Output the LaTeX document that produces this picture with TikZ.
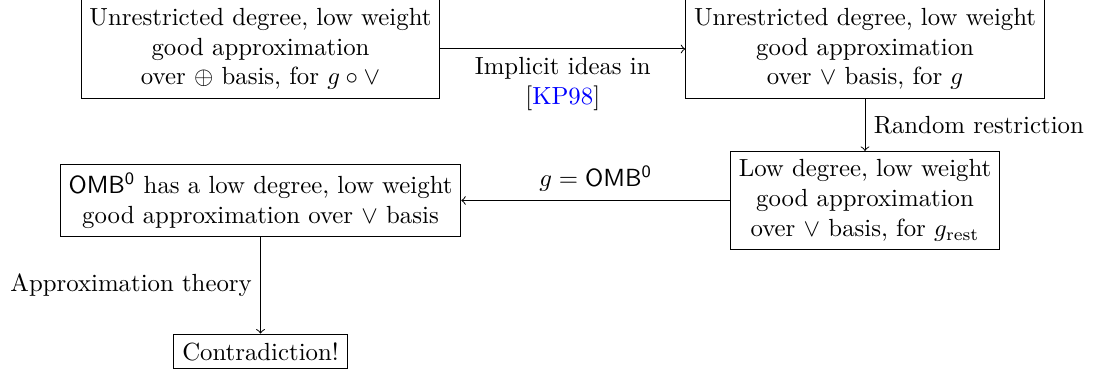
\documentclass[tikz,border=0pt]{standalone}
\usepackage{xcolor}
\begin{document}
\begin{tikzpicture}[x=0.4032pt,y=-0.4032pt,
  box/.style={draw, line width=0.4pt, align=center, inner sep=3.33pt},
  conn/.style={->, line width=0.4pt},
  lbl/.style={align=center}]
\useasboundingbox (0,0) rectangle (1096,375);
\node[box] (A) at (260.5,49) {Unrestricted degree, low weight\\ good approximation\\ over $\oplus$ basis, for $g\circ\vee$};
\node[box] (B) at (865,49) {Unrestricted degree, low weight\\ good approximation\\ over $\vee$ basis, for $g$};
\node[box] (C) at (865,200.5) {Low degree, low weight\\ good approximation\\ over $\vee$ basis, for $g_{\mathrm{rest}}$};
\node[box] (D) at (260.5,200.5) {$\mathsf{OMB^0}$ has a low degree, low weight\\ good approximation over $\vee$ basis};
\node[box] (E) at (260.5,351.5) {Contradiction!};
\draw[conn] (A.east) -- node[lbl, below] {Implicit ideas in\\ {[}\textcolor{blue}{KP98}{]}} (A.east -| B.west);
\draw[conn] (B.south) -- node[lbl, right] {Random restriction} (C.north);
\draw[conn] (C.west) -- node[lbl, above] {$g=\mathsf{OMB^0}$} (D.east);
\draw[conn] (D.south) -- node[lbl, left] {Approximation theory} (E.north);
\end{tikzpicture}
\end{document}
